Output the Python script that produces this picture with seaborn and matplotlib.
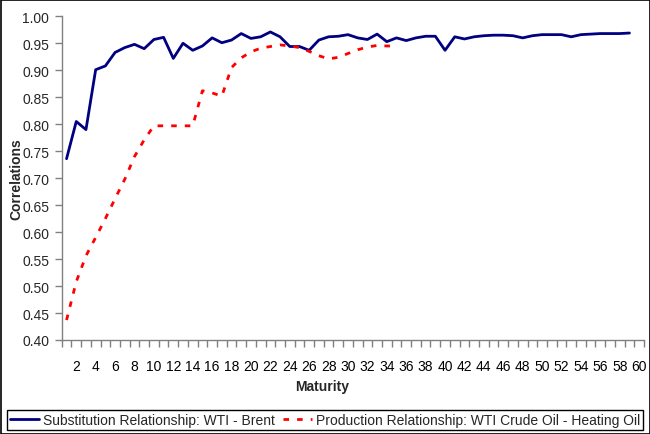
import numpy as np
import pandas as pd
import matplotlib
matplotlib.use('Agg')
import matplotlib.pyplot as plt
from matplotlib.patches import Rectangle
from matplotlib.ticker import FixedLocator, FormatStrFormatter
import seaborn as sns

sns.set_style('white')
plt.rcParams['font.family'] = ['Liberation Sans', 'DejaVu Sans']

# correlations by maturity
subst_label = 'Substitution Relationship: WTI - Brent'
prod_label = 'Production Relationship: WTI Crude Oil - Heating Oil'

subst_corr = [0.736, 0.805, 0.790, 0.901, 0.908, 0.933, 0.942, 0.948, 0.940, 0.957,
              0.961, 0.922, 0.950, 0.937, 0.945, 0.960, 0.951, 0.956, 0.968, 0.959,
              0.962, 0.971, 0.962, 0.944, 0.944, 0.937, 0.956, 0.962, 0.963, 0.966,
              0.960, 0.957, 0.967, 0.953, 0.960, 0.955, 0.960, 0.963, 0.963, 0.937,
              0.962, 0.958, 0.962, 0.964, 0.965, 0.965, 0.964, 0.960, 0.964, 0.966,
              0.966, 0.966, 0.962, 0.966, 0.967, 0.968, 0.968, 0.968, 0.969]
prod_corr = [0.437, 0.508, 0.556, 0.590, 0.625, 0.662, 0.698, 0.740, 0.771, 0.797,
             0.797, 0.797, 0.797, 0.797, 0.862, 0.858, 0.852, 0.905, 0.923, 0.934,
             0.941, 0.944, 0.947, 0.945, 0.942, 0.935, 0.927, 0.921, 0.924, 0.931,
             0.938, 0.943, 0.946, 0.945, 0.945]
n_categories = 60
tick_labels = [str(m) for m in range(2, n_categories + 1, 2)]
y_ticks = np.round(np.arange(0.40, 1.001, 0.05), 2)

df = pd.concat([
    pd.DataFrame({'Maturity': np.arange(1, len(subst_corr) + 1),
                  'Correlations': subst_corr, 'series': subst_label}),
    pd.DataFrame({'Maturity': np.arange(1, len(prod_corr) + 1),
                  'Correlations': prod_corr, 'series': prod_label}),
])

fig = plt.figure(figsize=(6.5, 4.35), dpi=100)
ax = fig.add_axes([61.7/650, 1-341/435, (644-61.7)/650, (341-17.3)/435])

sns.lineplot(data=df, x='Maturity', y='Correlations', hue='series', style='series',
             palette={subst_label: '#000080', prod_label: '#ff0000'},
             dashes={subst_label: '', prod_label: (2.0, 2.9)},
             linewidth=2.0, legend=False, ax=ax)
for ln in ax.lines:
    ln.set_dash_capstyle('butt')
    ln.set_solid_capstyle('round')
    ln.set_solid_joinstyle('round')

ax.set_xlim(0.5, n_categories + 0.5)
ax.set_ylim(0.40, 1.00)
ax.set_yticks(y_ticks)
ax.yaxis.set_major_formatter(FormatStrFormatter('%.2f'))
ax.set_xticks(range(2, n_categories + 1, 2))
ax.set_xticklabels(tick_labels)
ax.xaxis.set_minor_locator(FixedLocator(np.arange(0.5, n_categories + 1, 1)))
ax.tick_params(axis='x', which='major', length=0, pad=14, labelsize=10, colors='black')
ax.tick_params(axis='x', which='minor', length=5, width=1, color='#808080', direction='out', bottom=True)
ax.tick_params(axis='y', length=5, width=1, color='#808080', direction='out', left=True, labelsize=10, pad=4)
for side in ['top', 'right']:
    ax.spines[side].set_visible(False)
for side in ['left', 'bottom']:
    ax.spines[side].set_color('#808080')
    ax.spines[side].set_linewidth(1)

ax.set_xlabel('')
ax.set_ylabel('Correlations', fontsize=10, fontweight='bold')
ax.yaxis.set_label_coords(-0.066, 0.5)
fig.text(322/650, 1-387/435, 'Maturity', fontsize=10, fontweight='bold', ha='center', va='center')

handles = ax.lines[:2]
leg = fig.legend(handles, [subst_label, prod_label], loc='center',
                 bbox_to_anchor=(325/650, 1-421/435), ncol=2, fontsize=10,
                 frameon=True, fancybox=False, edgecolor='black', framealpha=1,
                 handlelength=2.1, handletextpad=0.25, columnspacing=0.6,
                 borderpad=0.25, borderaxespad=0)
leg.get_frame().set_linewidth(1)

fig.patches.append(Rectangle((0.5/650, 0.5/435), 1-1/650, 1-1/435, transform=fig.transFigure,
                             fill=False, edgecolor='black', linewidth=1.2))

fig.savefig('out.png', dpi=100)
